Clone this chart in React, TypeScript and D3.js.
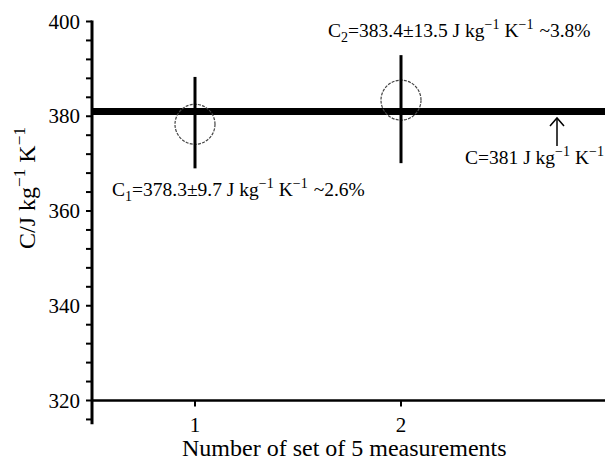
import React from 'react';
import * as d3 from 'd3';

// data
const sets = [1, 2];
const means = [378.3, 383.4];
const errLow = [369.0, 370.1];
const errHigh = [388.3, 392.9];
const meanLine = 381;
const yMajorTicks = [320, 340, 360, 380, 400];
const yMinorTicks = d3.range(316, 401, 4);
const xTicks = [1, 2];

const W = 605;
const H = 462;
const FONT = "'Liberation Serif', 'Times New Roman', 'DejaVu Serif', serif";

const x = d3.scaleLinear().domain([0.5, 3]).range([92, 607]);
const y = d3.scaleLinear().domain([320, 400]).range([400.5, 21.5]);

function Sup({ children, d = 8 }: { children: React.ReactNode; d?: number }) {
  return (
    <tspan dy={-d} fontSize="0.72em">
      {children}
    </tspan>
  );
}

export default function App() {
  const axisBottom = y(315);
  return (
    <svg
      width={W}
      height={H}
      style={{ position: 'absolute', left: 0, top: 0, background: '#fff', fontFamily: FONT }}
    >
      {/* mean value line */}
      <line x1={x(0.5)} x2={W} y1={y(meanLine)} y2={y(meanLine)} stroke="#000" strokeWidth={7} />

      {/* circles + error bars */}
      {sets.map((s, i) => (
        <g key={s}>
          <circle
            cx={x(s)}
            cy={y(means[i])}
            r={20}
            fill="none"
            stroke="#444"
            strokeWidth={1.2}
            strokeDasharray="3,1.2"
          />
          <line x1={x(s)} x2={x(s)} y1={y(errHigh[i])} y2={y(errLow[i])} stroke="#000" strokeWidth={3} />
        </g>
      ))}

      {/* y axis */}
      <line x1={x(0.5)} x2={x(0.5)} y1={y(400) - 1} y2={axisBottom} stroke="#000" strokeWidth={3} />
      {yMinorTicks.map((t) => (
        <line key={t} x1={x(0.5) - 6} x2={x(0.5)} y1={y(t)} y2={y(t)} stroke="#000" strokeWidth={2} />
      ))}
      {yMajorTicks.map((t) => (
        <text key={t} x={80} y={y(t)} dy="0.34em" textAnchor="end" fontSize={21}>
          {t}
        </text>
      ))}

      {/* x axis */}
      <line x1={x(0.5)} x2={W} y1={y(320)} y2={y(320)} stroke="#000" strokeWidth={2.5} />
      {xTicks.map((t) => (
        <g key={t}>
          <line x1={x(t)} x2={x(t)} y1={y(320)} y2={y(320) + 6} stroke="#000" strokeWidth={2} />
          <text x={x(t)} y={432} textAnchor="middle" fontSize={21}>
            {t}
          </text>
        </g>
      ))}
      <text x={182} y={456} fontSize={24}>
        Number of set of 5 measurements
      </text>

      {/* y label */}
      <text transform="translate(35,188) rotate(-90)" textAnchor="middle" fontSize={24}>
        C/J kg<Sup d={10}>−1</Sup>
        <tspan dy={10}> K</tspan>
        <Sup d={10}>−1</Sup>
      </text>

      {/* annotations */}
      <text x={112} y={196} fontSize={19.5}>
        C<tspan dy={5} fontSize="0.72em">1</tspan>
        <tspan dy={-5}>=378.3±9.7 J kg</tspan>
        <Sup>−1</Sup>
        <tspan dy={8}> K</tspan>
        <Sup>−1</Sup>
        <tspan dy={8} dx={6}>~2.6%</tspan>
      </text>
      <text x={328} y={37} fontSize={19.5}>
        C<tspan dy={5} fontSize="0.72em">2</tspan>
        <tspan dy={-5}>=383.4±13.5 J kg</tspan>
        <Sup>−1</Sup>
        <tspan dy={8}> K</tspan>
        <Sup>−1</Sup>
        <tspan dy={8} dx={6}>~3.8%</tspan>
      </text>
      <text x={465} y={164} fontSize={19.5}>
        C=381 J kg<Sup>−1</Sup>
        <tspan dy={8}> K</tspan>
        <Sup>−1</Sup>
      </text>

      {/* arrow */}
      <g stroke="#000" strokeWidth={1.5} fill="none">
        <line x1={557} x2={557} y1={146} y2={118} />
        <polyline points="550,126 557,118 564,126" />
      </g>
    </svg>
  );
}
